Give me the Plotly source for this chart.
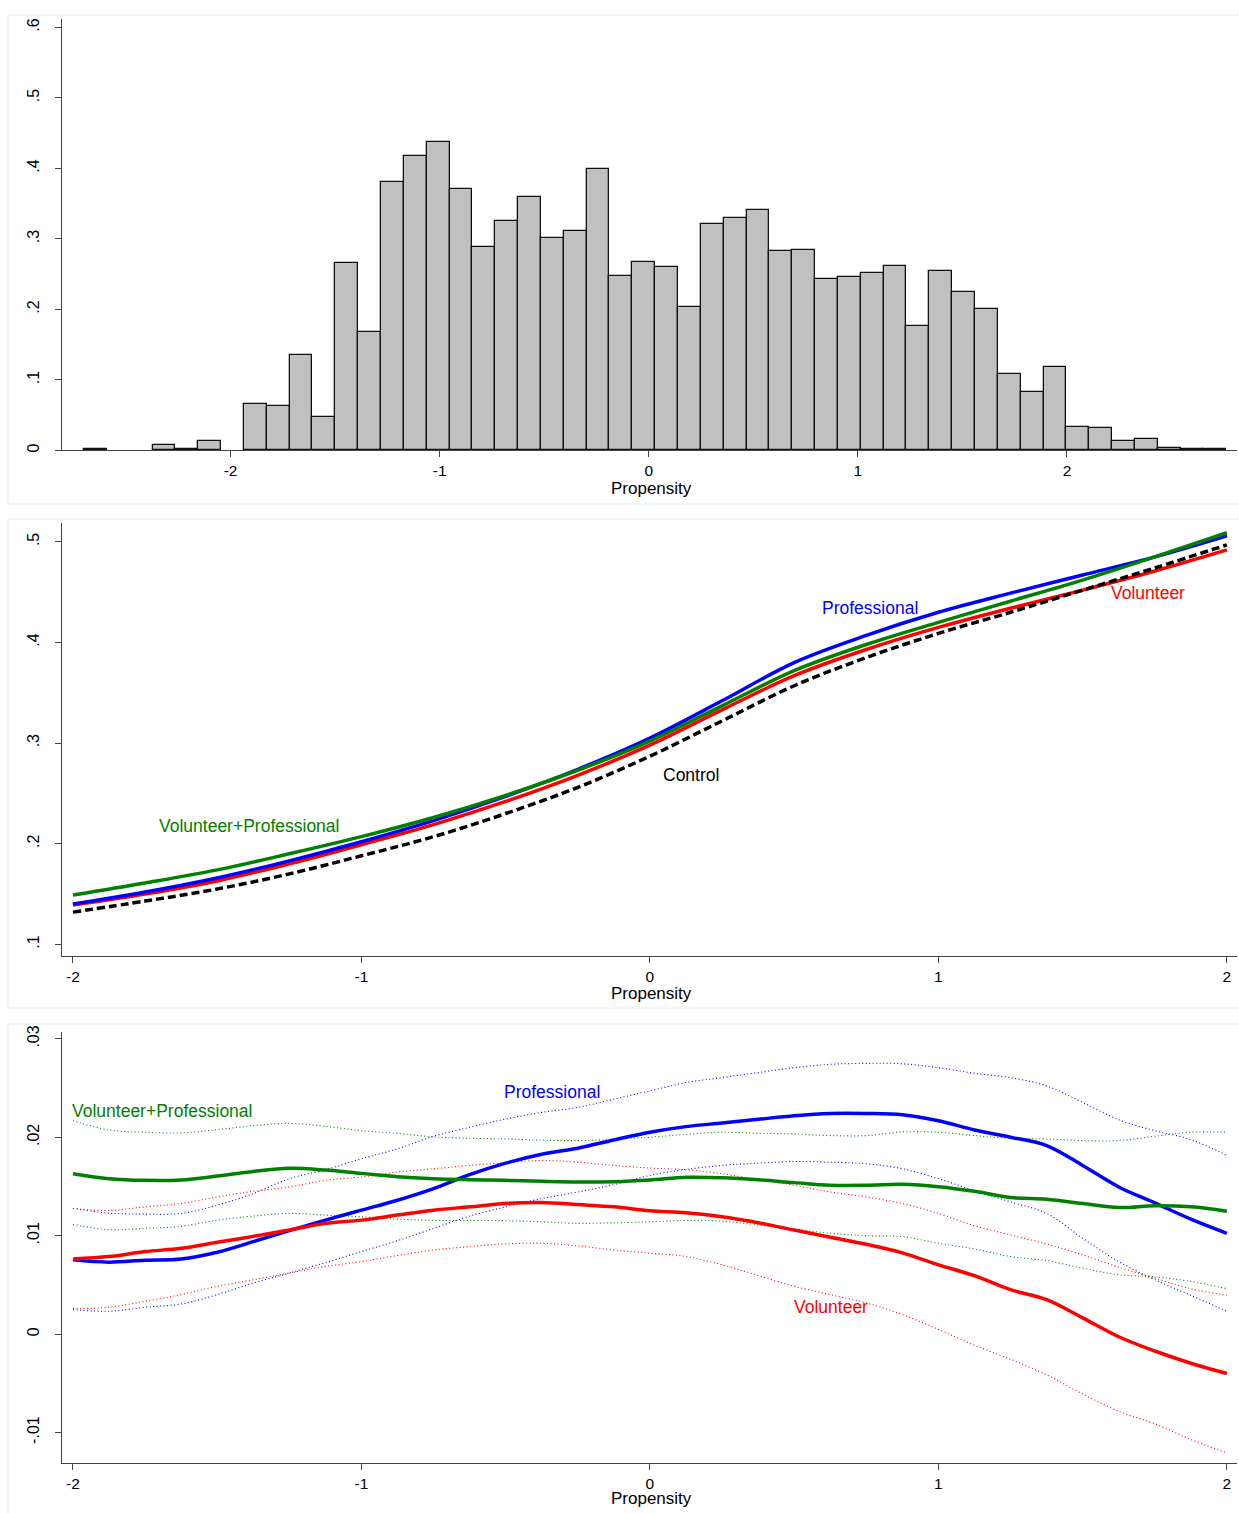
import numpy as np
import plotly.graph_objects as go

# ---------------- Panel 1: histogram of propensity ----------------
hist_start = -2.701
hist_width = 0.10926
hist_density = [0.002, None, None, 0.007, 0.0015, 0.0127, None, 0.066, 0.063, 0.135,
                0.047, 0.266, 0.168, 0.381, 0.417, 0.438, 0.371, 0.289, 0.326, 0.360,
                0.302, 0.311, 0.399, 0.247, 0.267, 0.260, 0.204, 0.321, 0.330, 0.341,
                0.283, 0.284, 0.243, 0.246, 0.251, 0.261, 0.177, 0.255, 0.225, 0.200,
                0.109, 0.083, 0.119, 0.033, 0.032, 0.014, 0.0155, 0.004, 0.0015, 0.0015]
hist_centers = hist_start + hist_width * (np.arange(len(hist_density)) + 0.5)

# ---------------- Panel 2: predicted probability by propensity ----------------
p2_x = [-2, -1.75, -1.5, -1.25, -1, -0.75, -0.5, -0.25, 0, 0.25, 0.5, 0.75, 1, 1.25, 1.5, 1.75, 2]
p2_vp = [0.149, 0.161, 0.174, 0.190, 0.207, 0.226, 0.248, 0.273, 0.302, 0.337, 0.372, 0.398, 0.420, 0.441, 0.462, 0.485, 0.509]
p2_prof = [0.140, 0.152, 0.166, 0.183, 0.202, 0.223, 0.247, 0.274, 0.305, 0.342, 0.380, 0.407, 0.430, 0.449, 0.467, 0.485, 0.506]
p2_vol = [0.139, 0.150, 0.163, 0.180, 0.199, 0.219, 0.242, 0.268, 0.298, 0.333, 0.367, 0.393, 0.415, 0.434, 0.452, 0.471, 0.492]
p2_ctrl = [0.132, 0.143, 0.155, 0.170, 0.188, 0.207, 0.230, 0.256, 0.287, 0.322, 0.357, 0.385, 0.409, 0.430, 0.452, 0.474, 0.497]

# ---------------- Panel 3: treatment effects with CIs ----------------
p3_x = [-2.0, -1.875, -1.75, -1.625, -1.5, -1.375, -1.25, -1.125, -1.0, -0.875, -0.75,
        -0.625, -0.5, -0.375, -0.25, -0.125, 0.0, 0.125, 0.25, 0.375, 0.5, 0.625,
        0.75, 0.875, 1.0, 1.125, 1.25, 1.375, 1.5, 1.625, 1.75, 1.875, 2.0]
prof_est = [0.00754, 0.00731, 0.00751, 0.00764, 0.00832, 0.00939, 0.01051, 0.01158, 0.01259,
            0.01360, 0.01478, 0.01620, 0.01737, 0.01828, 0.01889, 0.01973, 0.02051, 0.02108,
            0.02145, 0.02182, 0.02219, 0.02242, 0.02242, 0.02229, 0.02168, 0.02074, 0.02000,
            0.01916, 0.01714, 0.01495, 0.01333, 0.01168, 0.01024]
prof_hi = [0.01276, 0.01229, 0.01219, 0.01226, 0.01310, 0.01428, 0.01579, 0.01670, 0.01781,
           0.01882, 0.02010, 0.02101, 0.02185, 0.02253, 0.02303, 0.02387, 0.02471, 0.02556,
           0.02606, 0.02657, 0.02707, 0.02741, 0.02751, 0.02747, 0.02707, 0.02650, 0.02606,
           0.02522, 0.02354, 0.02178, 0.02067, 0.01976, 0.01815]
prof_lo = [0.00249, 0.00232, 0.00273, 0.00306, 0.00401, 0.00519, 0.00620, 0.00727, 0.00838,
           0.00949, 0.01074, 0.01199, 0.01293, 0.01377, 0.01444, 0.01519, 0.01613, 0.01673,
           0.01714, 0.01737, 0.01754, 0.01747, 0.01731, 0.01680, 0.01579, 0.01455, 0.01343,
           0.01226, 0.00973, 0.00737, 0.00552, 0.00394, 0.00232]
vol_est = [0.00764, 0.00788, 0.00838, 0.00872, 0.00933, 0.00993, 0.01057, 0.01125, 0.01158,
           0.01209, 0.01259, 0.01293, 0.01327, 0.01337, 0.01316, 0.01293, 0.01253, 0.01232,
           0.01192, 0.01131, 0.01057, 0.00983, 0.00912, 0.00825, 0.00704, 0.00593, 0.00451,
           0.00350, 0.00165, -0.00027, -0.00172, -0.00296, -0.00401]
vol_hi = [0.01276, 0.01256, 0.01293, 0.01327, 0.01394, 0.01451, 0.01495, 0.01562, 0.01596,
          0.01646, 0.01680, 0.01714, 0.01741, 0.01764, 0.01747, 0.01714, 0.01687, 0.01670,
          0.01630, 0.01569, 0.01512, 0.01444, 0.01394, 0.01327, 0.01226, 0.01101, 0.01007,
          0.00916, 0.00805, 0.00680, 0.00569, 0.00461, 0.00394]
vol_lo = [0.00259, 0.00273, 0.00333, 0.00401, 0.00485, 0.00552, 0.00620, 0.00687, 0.00737,
          0.00798, 0.00855, 0.00889, 0.00916, 0.00923, 0.00896, 0.00855, 0.00822, 0.00788,
          0.00704, 0.00596, 0.00485, 0.00401, 0.00316, 0.00199, 0.00047, -0.00114, -0.00256,
          -0.00414, -0.00609, -0.00785, -0.00912, -0.01071, -0.01209]
vp_est = [0.01630, 0.01579, 0.01562, 0.01566, 0.01606, 0.01653, 0.01684, 0.01667, 0.01633,
          0.01599, 0.01579, 0.01569, 0.01562, 0.01552, 0.01545, 0.01549, 0.01566, 0.01593,
          0.01589, 0.01569, 0.01539, 0.01512, 0.01512, 0.01522, 0.01498, 0.01451, 0.01387,
          0.01370, 0.01327, 0.01286, 0.01303, 0.01293, 0.01249]
vp_hi = [0.02168, 0.02074, 0.02051, 0.02044, 0.02077, 0.02118, 0.02141, 0.02111, 0.02067,
         0.02040, 0.02003, 0.01990, 0.01983, 0.01970, 0.01966, 0.01980, 0.02000, 0.02030,
         0.02051, 0.02040, 0.02034, 0.02017, 0.02017, 0.02054, 0.02051, 0.02017, 0.01990,
         0.01983, 0.01966, 0.01966, 0.02010, 0.02051, 0.02051]
vp_lo = [0.01114, 0.01061, 0.01074, 0.01094, 0.01158, 0.01199, 0.01226, 0.01209, 0.01192,
         0.01168, 0.01155, 0.01155, 0.01152, 0.01141, 0.01125, 0.01131, 0.01141, 0.01155,
         0.01148, 0.01108, 0.01067, 0.01024, 0.01000, 0.00990, 0.00923, 0.00865, 0.00788,
         0.00747, 0.00670, 0.00603, 0.00582, 0.00535, 0.00461]

# ---------------- Styling constants ----------------
BLUE = "#0000ff"
RED = "#ff0000"
GREEN = "#008000"
FONT = "Arial, Liberation Sans, sans-serif"
W, H = 1239, 1513
LABEL_SIZE = 17.5

fig = go.Figure()

# Panel 1
fig.add_trace(go.Bar(x=hist_centers, y=hist_density, width=hist_width,
                     marker=dict(color="#c0c0c0", line=dict(color="#111111", width=1.3)),
                     xaxis="x", yaxis="y", showlegend=False))

# Panel 2
fig.add_trace(go.Scatter(x=p2_x, y=p2_vol, mode="lines", line=dict(color=RED, width=3.5, shape="spline"),
                         xaxis="x2", yaxis="y2", showlegend=False))
fig.add_trace(go.Scatter(x=p2_x, y=p2_prof, mode="lines", line=dict(color=BLUE, width=3.5, shape="spline"),
                         xaxis="x2", yaxis="y2", showlegend=False))
fig.add_trace(go.Scatter(x=p2_x, y=p2_vp, mode="lines", line=dict(color=GREEN, width=3.5, shape="spline"),
                         xaxis="x2", yaxis="y2", showlegend=False))
fig.add_trace(go.Scatter(x=p2_x, y=p2_ctrl, mode="lines",
                         line=dict(color="black", width=3.5, dash="8px,4px", shape="spline"),
                         xaxis="x2", yaxis="y2", showlegend=False))

# Panel 3: CIs (dotted), then estimates
for arr, col in [(prof_hi, BLUE), (prof_lo, BLUE), (vol_hi, RED), (vol_lo, RED), (vp_hi, GREEN), (vp_lo, GREEN)]:
    fig.add_trace(go.Scatter(x=p3_x, y=arr, mode="lines",
                             line=dict(color=col, width=1.1, dash="1px,2.5px", shape="spline"),
                             xaxis="x3", yaxis="y3", showlegend=False))
for arr, col in [(prof_est, BLUE), (vp_est, GREEN), (vol_est, RED)]:
    fig.add_trace(go.Scatter(x=p3_x, y=arr, mode="lines",
                             line=dict(color=col, width=3.5, shape="spline"),
                             xaxis="x3", yaxis="y3", showlegend=False))

def py(px):
    return 1 - px / H

xdom = [62 / W, 1237 / W]
axis_common = dict(showline=True, linecolor="#444444", linewidth=1.3, ticks="outside",
                   ticklen=6, tickcolor="#444444", tickwidth=1.2, showgrid=False, zeroline=False,
                   fixedrange=True)

def xaxis(rng, anchor):
    d = dict(axis_common)
    d.update(domain=xdom, range=rng, anchor=anchor, tickvals=[-2, -1, 0, 1, 2],
             ticktext=["-2", "-1", "0", "1", "2"],
             tickfont=dict(family=FONT, size=15.5, color="black"))
    return d

def yaxis(rng, anchor, dom, vals, texts):
    d = dict(axis_common)
    d.update(domain=dom, range=rng, anchor=anchor, tickvals=vals, ticktext=texts,
             tickangle=-90, ticklabelstandoff=9,
             tickfont=dict(family=FONT, size=16, color="black"))
    return d

fig.update_layout(
    width=W, height=H, margin=dict(l=0, r=0, t=0, b=0),
    paper_bgcolor="white", plot_bgcolor="white", bargap=0,
    font=dict(family=FONT, color="black"),
    xaxis=xaxis([-2.806, 2.813], "y"),
    yaxis=yaxis([0, 0.612], "x", [py(446), py(12)],
                [0, 0.1, 0.2, 0.3, 0.4, 0.5, 0.6], ["0", ".1", ".2", ".3", ".4", ".5", ".6"]),
    xaxis2=xaxis([-2.038, 2.035], "y2"),
    yaxis2=yaxis([0.0881, 0.5188], "x2", [py(955), py(519)],
                 [0.1, 0.2, 0.3, 0.4, 0.5], [".1", ".2", ".3", ".4", ".5"]),
    xaxis3=xaxis([-2.038, 2.035], "y3"),
    yaxis3=yaxis([-0.01313, 0.03071], "x3", [py(1465), py(1031)],
                 [-0.01, 0, 0.01, 0.02, 0.03], ["-.01", "0", ".01", ".02", ".03"]),
)

# Panel frames (light borders)
frame_col = "#e3ebee"
for top, bot in [(8, 500), (515, 1007), (1023, 1520)]:
    fig.add_shape(type="rect", xref="paper", yref="paper", x0=8 / W, x1=1.01,
                  y0=py(bot), y1=py(top), line=dict(color=frame_col, width=1), layer="below")

# X-axis titles
for ypix in [484, 992, 1500]:
    fig.add_annotation(text="Propensity", xref="paper", yref="paper", x=651 / W, y=py(ypix),
                       showarrow=False, xanchor="center", yanchor="middle",
                       font=dict(family=FONT, size=17, color="black"))

# Panel 2 labels
lab2 = [("Professional", 0.763, 0.434, BLUE), ("Volunteer", 1.726, 0.449, RED),
        ("Control", 0.142, 0.268, "black"), ("Volunteer+Professional", -1.39, 0.218, GREEN)]
for t, x, y, c in lab2:
    fig.add_annotation(text=t, x=x, y=y, xref="x2", yref="y2", showarrow=False,
                       xanchor="center", yanchor="middle", font=dict(family=FONT, size=LABEL_SIZE, color=c))

# Panel 3 labels
fig.add_annotation(text="Volunteer+Professional", x=-2.0, y=0.0227, xref="x3", yref="y3",
                   showarrow=False, xanchor="left", yanchor="middle", xshift=-3,
                   font=dict(family=FONT, size=LABEL_SIZE, color=GREEN))
fig.add_annotation(text="Professional", x=-0.340, y=0.0246, xref="x3", yref="y3",
                   showarrow=False, xanchor="center", yanchor="middle",
                   font=dict(family=FONT, size=LABEL_SIZE, color=BLUE))
fig.add_annotation(text="Volunteer", x=0.627, y=0.00273, xref="x3", yref="y3",
                   showarrow=False, xanchor="center", yanchor="middle",
                   font=dict(family=FONT, size=LABEL_SIZE, color=RED))

fig.write_html("out.html")
